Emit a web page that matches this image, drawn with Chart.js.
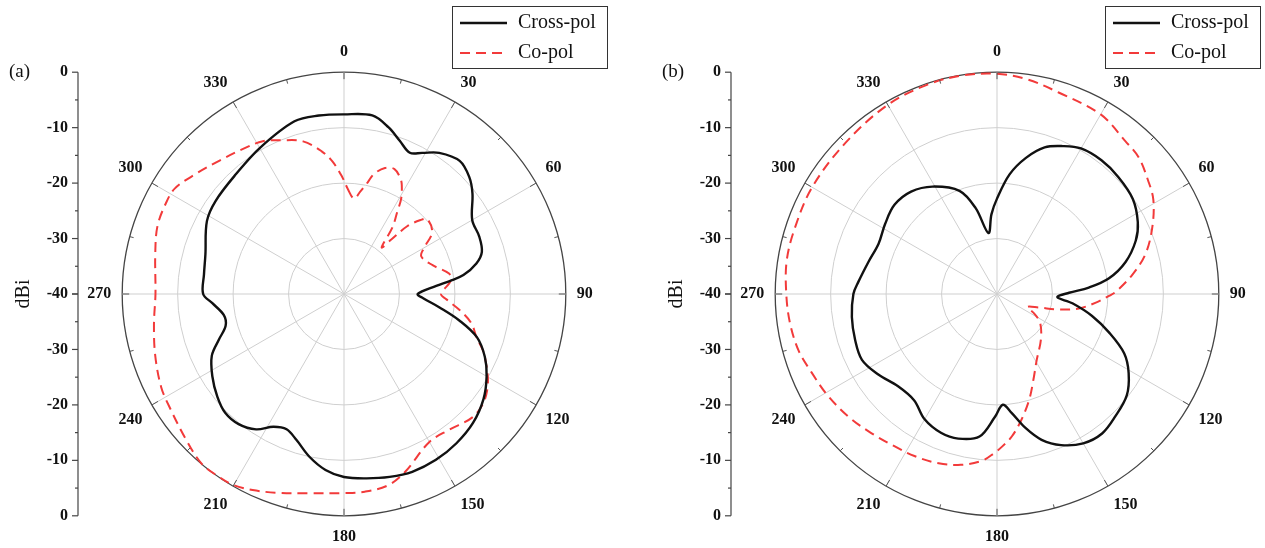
<!DOCTYPE html>
<html>
<head>
<meta charset="utf-8">
<script src="https://cdn.jsdelivr.net/npm/chart.js@4.4.1/dist/chart.umd.min.js"></script>
<style>
  html, body { margin: 0; padding: 0; background: #fff; overflow: hidden; }
  #wrap { position: relative; width: 1265px; height: 548px; overflow: hidden; }
  canvas { position: absolute; top: 0; }
  #chartA { left: 0; }
  #chartB { left: 640px; }
</style>
</head>
<body>
<div id="wrap">
  <canvas id="chartA" width="700" height="548"></canvas>
  <canvas id="chartB" width="700" height="548"></canvas>
</div>
<script>
// angles in degrees (0 at top, clockwise), gain in dBi

// (a) Cross-pol
const crossA_deg = [0, 9, 15, 20, 25, 29, 34, 41, 47, 52, 60, 67, 73, 77, 81, 83, 85, 90, 93, 98, 103, 108, 114, 120, 127, 135, 143, 151, 159, 166, 173, 180, 186, 192, 198, 203, 208, 213, 219, 225, 231, 238, 245, 250, 255, 260, 266, 270, 278, 286, 298, 306, 318, 330, 344, 352];
const crossA_db = [-7.6, -7.4, -8.9, -10.6, -11.9, -10.9, -9.3, -8.2, -9.1, -10.6, -13.3, -13.5, -14.0, -15.5, -18.2, -20.8, -23.3, -26.7, -25.7, -22.6, -18.6, -14.8, -12.2, -10.3, -8.5, -7.1, -6.3, -5.8, -5.65, -6.0, -6.5, -7.0, -8.1, -10.0, -12.3, -13.5, -12.9, -10.9, -9.8, -9.7, -10.6, -12.0, -13.7, -16.0, -17.9, -18.0, -16.2, -14.6, -14.5, -14.0, -12.0, -11.4, -10.9, -9.6, -7.6, -7.5];

// (a) Co-pol
const coA_deg = [2, 6, 9, 12, 14, 18, 22, 26, 28, 31, 33, 36, 39, 41, 43, 46, 48, 55, 60, 64, 72, 79, 83, 90, 93, 98, 103, 108, 112, 116, 122, 128, 134, 142, 150, 161, 167, 174, 180, 190, 199, 205, 210, 215, 220, 227, 237, 243, 252, 261, 270, 282, 290, 297, 302, 309, 317, 325, 332, 338, 345, 351, 355, 359];
const coA_db = [-21.0, -22.7, -21.3, -19.4, -17.7, -16.1, -15.7, -16.8, -17.8, -20.0, -22.4, -25.1, -29.2, -27.0, -23.3, -20.8, -19.8, -20.6, -23.3, -24.5, -23.2, -20.7, -20.6, -22.5, -21.5, -18.9, -16.4, -14.9, -13.0, -11.5, -9.4, -8.1, -7.9, -9.0, -9.2, -6.1, -4.6, -4.15, -4.1, -3.5, -2.1, -1.0, -0.2, -0.05, -0.05, -1.2, -2.5, -3.0, -4.2, -5.3, -6.0, -5.2, -4.2, -3.95, -4.05, -5.6, -7.1, -8.1, -8.8, -10.1, -11.5, -13.9, -16.0, -18.8];

// (b) Cross-pol
const crossB_deg = [0, 6, 12, 18, 24, 30, 38, 46, 55, 63, 69, 76, 82, 86, 89, 93, 97, 103, 109, 115, 121, 128, 136, 143, 150, 157, 163, 168, 173, 177, 181, 187, 195, 202, 210, 218, 227, 236, 244, 252, 261, 270, 275, 284, 293, 302, 311, 320, 329, 340, 346, 352, 356];
const crossB_db = [-22.8, -18.3, -14.9, -12.2, -10.8, -9.7, -9.4, -9.6, -10.1, -11.5, -13.2, -16.1, -19.6, -23.4, -27.0, -29.1, -26.3, -22.4, -18.6, -14.7, -12.3, -10.3, -9.3, -8.5, -8.9, -10.4, -12.5, -15.3, -18.4, -20.0, -17.8, -14.1, -13.0, -13.0, -13.9, -15.7, -15.6, -14.1, -12.9, -13.1, -13.5, -14.1, -14.9, -16.1, -16.8, -16.2, -15.5, -15.9, -17.4, -20.2, -24.0, -28.9, -25.6];

// (b) Co-pol
const coB_deg = [0, 8, 17, 30, 40, 46, 53, 59, 67, 75, 82, 89, 91, 95, 100, 104, 108, 113, 118, 124, 136, 149, 157, 163, 169, 174, 178, 181, 185, 192, 199, 207, 214, 222, 230, 239, 247, 254, 262, 270, 279, 288, 300, 315, 330, 342, 351];
const coB_db = [-0.3, -0.9, -2.0, -2.6, -4.0, -4.5, -5.9, -7.1, -9.6, -12.3, -15.4, -18.6, -19.8, -22.1, -25.0, -28.5, -32.1, -34.0, -32.3, -30.6, -28.6, -26.1, -23.2, -20.1, -16.9, -14.2, -12.5, -11.3, -9.85, -8.5, -7.7, -7.2, -6.9, -6.2, -5.3, -4.4, -3.7, -2.8, -2.3, -2.0, -1.6, -1.65, -1.5, -1.4, -0.6, -0.2, -0.1];

const angleLabels = Array.from({ length: 360 }, (_, i) => i);
const axisTicks = [0, -10, -20, -30, -40];
const seriesNames = ['Cross-pol', 'Co-pol'];

const SERIF = "'Liberation Serif', 'Times New Roman', serif";
const RED = '#f23a3a';

// spread sparse (angle, value) readings over the 1-degree label grid
function toSeries(deg, db) {
  const out = new Array(360).fill(null);
  deg.forEach((d, i) => { out[d % 360] = db[i]; });
  return out;
}

// left dBi axis, outer tick marks, tag and framed legend
const polarDecor = {
  id: 'polarDecor',
  afterDraw(chart, args, opts) {
    const s = chart.scales.r;
    const ctx = chart.ctx;
    const xc = s.xCenter, yc = s.yCenter, R = s.drawingArea;
    ctx.save();

    // small ticks on the outer ring
    ctx.strokeStyle = '#555';
    ctx.lineWidth = 1;
    for (let a = 0; a < 360; a += 15) {
      const len = a % 30 === 0 ? 7 : 4;
      const p1 = s.getPointPosition(a, R);
      const p2 = s.getPointPosition(a, R - len);
      ctx.beginPath();
      ctx.moveTo(p1.x, p1.y);
      ctx.lineTo(p2.x, p2.y);
      ctx.stroke();
    }

    // vertical axis
    const ax = xc - 266;
    ctx.strokeStyle = '#444';
    ctx.lineWidth = 1.2;
    ctx.beginPath();
    ctx.moveTo(ax, yc - R);
    ctx.lineTo(ax, yc + R);
    ctx.stroke();

    ctx.font = 'bold 16px ' + SERIF;
    ctx.fillStyle = '#111';
    ctx.textAlign = 'right';
    ctx.textBaseline = 'middle';
    for (let v = -40; v <= 0; v += 5) {
      const d = s.getDistanceFromCenterForValue(v);
      const major = v % 10 === 0;
      const len = major ? 6 : 3;
      [yc - d, yc + d].forEach((y) => {
        ctx.beginPath();
        ctx.moveTo(ax, y);
        ctx.lineTo(ax - len, y);
        ctx.stroke();
      });
    }
    axisTicks.forEach((v) => {
      const d = s.getDistanceFromCenterForValue(v);
      ctx.fillText(String(v), ax - 10, yc - d);
      if (d > 0) ctx.fillText(String(v), ax - 10, yc + d);
    });

    // axis title
    ctx.save();
    ctx.translate(xc - 320, yc);
    ctx.rotate(-Math.PI / 2);
    ctx.font = '20px ' + SERIF;
    ctx.textAlign = 'center';
    ctx.fillText('dBi', 0, 0);
    ctx.restore();

    // panel tag
    ctx.font = '19px ' + SERIF;
    ctx.textAlign = 'left';
    ctx.fillText(opts.tag, xc - 335, yc - R);

    // legend box
    const bx = xc + 108, by = 6, bw = 155, bh = 62;
    ctx.strokeStyle = '#333';
    ctx.lineWidth = 1;
    ctx.strokeRect(bx + 0.5, by + 0.5, bw, bh);
    chart.data.datasets.forEach((ds, i) => {
      const y = by + 17 + i * 30;
      ctx.strokeStyle = ds.borderColor;
      ctx.lineWidth = ds.borderWidth;
      ctx.setLineDash(ds.borderDash || []);
      ctx.beginPath();
      ctx.moveTo(bx + 8, y);
      ctx.lineTo(bx + 55, y);
      ctx.stroke();
      ctx.setLineDash([]);
      ctx.font = '20px ' + SERIF;
      ctx.fillStyle = '#111';
      ctx.fillText(ds.label, bx + 66, y);
    });
    ctx.restore();
  }
};

function makePolar(id, tag, cross, co, padLeft, padRight) {
  return new Chart(document.getElementById(id), {
    type: 'radar',
    data: {
      labels: angleLabels,
      datasets: [
        {
          label: seriesNames[0],
          data: toSeries(cross[0], cross[1]),
          borderColor: '#111',
          borderWidth: 2.4,
          fill: false,
          spanGaps: true,
          tension: 0.35,
          pointRadius: 0
        },
        {
          label: seriesNames[1],
          data: toSeries(co[0], co[1]),
          borderColor: RED,
          borderWidth: 2,
          borderDash: [10, 6],
          fill: false,
          spanGaps: true,
          tension: 0.35,
          pointRadius: 0
        }
      ]
    },
    options: {
      responsive: false,
      animation: false,
      devicePixelRatio: 1,
      layout: { padding: { left: padLeft, right: padRight, top: 43, bottom: 1 } },
      plugins: {
        legend: { display: false },
        tooltip: { enabled: false },
        polarDecor: { tag: tag }
      },
      scales: {
        r: {
          min: -40,
          max: 0,
          ticks: { display: false, stepSize: 10 },
          grid: {
            circular: true,
            color: (c) => (c.tick && c.tick.value === 0 ? '#444' : '#cfcfcf'),
            lineWidth: (c) => (c.tick && c.tick.value === 0 ? 1.3 : 1)
          },
          angleLines: {
            color: '#cfcfcf',
            lineWidth: (c) => (c.index % 30 === 0 ? 1 : 0)
          },
          pointLabels: {
            padding: 11,
            color: '#111',
            font: { family: SERIF, size: 16, weight: 'bold' },
            callback: (label) => (label % 30 === 0 ? String(label) : '')
          }
        }
      }
    },
    plugins: [polarDecor]
  });
}

makePolar('chartA', '(a)', [crossA_deg, crossA_db], [coA_deg, coA_db], 44, 56);
makePolar('chartB', '(b)', [crossB_deg, crossB_db], [coB_deg, coB_db], 57, 43);
</script>
</body>
</html>
